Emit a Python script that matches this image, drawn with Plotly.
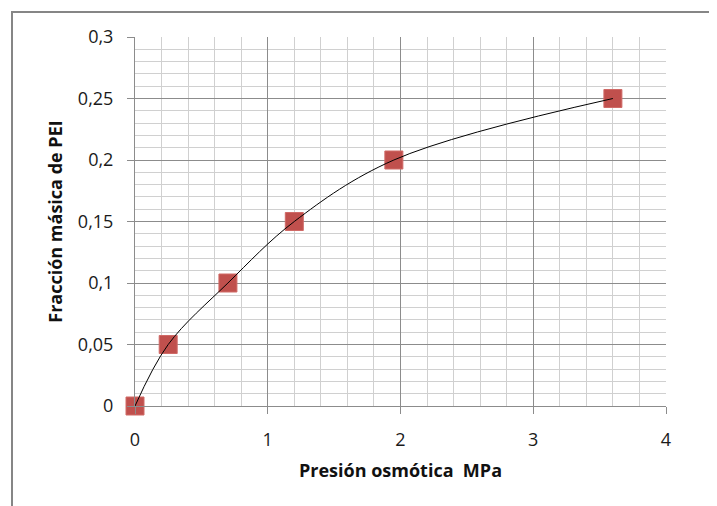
import plotly.graph_objects as go

presion = [0, 0.25, 0.7, 1.2, 1.95, 3.6]
fraccion = [0, 0.05, 0.1, 0.15, 0.2, 0.25]

x_ticks = [0, 1, 2, 3, 4]
x_labels = ["0", "1", "2", "3", "4"]
y_ticks = [0, 0.05, 0.1, 0.15, 0.2, 0.25, 0.3]
y_labels = ["0", "0,05", "0,1", "0,15", "0,2", "0,25", "0,3"]

FONT = "Open Sans"

fig = go.Figure()
fig.add_trace(go.Scatter(
    x=presion, y=fraccion, mode="markers", cliponaxis=False,
    marker=dict(symbol="square", size=18, color="#C0504D",
                line=dict(color="#D06A67", width=1)),
    showlegend=False, hoverinfo="skip"))
fig.add_trace(go.Scatter(
    x=presion, y=fraccion, mode="lines", cliponaxis=False,
    line=dict(color="black", width=1, shape="spline", smoothing=1),
    showlegend=False, hoverinfo="skip"))

# page body has an 8px margin, so the figure is shrunk/offset to compensate
fig.update_layout(
    width=709, height=498,
    margin=dict(l=127, r=51, t=29, b=100),
    paper_bgcolor="white", plot_bgcolor="white",
    font=dict(family=FONT, size=18, color="#1A1A1A"),
    xaxis=dict(
        range=[0, 4], tickvals=x_ticks, ticktext=x_labels,
        showgrid=True, gridcolor="#8C8C8C", gridwidth=1,
        minor=dict(dtick=0.2, showgrid=True, gridcolor="#D0D0D0", gridwidth=1),
        showline=True, linecolor="#8C8C8C", linewidth=1,
        ticks="outside", ticklen=7, tickcolor="#8C8C8C",
        ticklabelstandoff=10,
        zeroline=False, automargin=False,
        title=dict(text="<b>Presión osmótica&nbsp; MPa</b>", standoff=14,
                   font=dict(family=FONT, size=18, color="#111111")),
    ),
    yaxis=dict(
        range=[0, 0.3], tickvals=y_ticks, ticktext=y_labels,
        showgrid=True, gridcolor="#8C8C8C", gridwidth=1,
        minor=dict(dtick=0.01, showgrid=True, gridcolor="#D0D0D0", gridwidth=1),
        showline=True, linecolor="#8C8C8C", linewidth=1,
        ticks="outside", ticklen=7, tickcolor="#8C8C8C",
        ticklabelstandoff=10,
        zeroline=False, automargin=False,
        title=dict(text="<b>Fracción másica de PEI</b>", standoff=10,
                   font=dict(family=FONT, size=18, color="#111111")),
    ),
    shapes=[dict(type="rect", xref="paper", yref="paper",
                 xsizemode="pixel", ysizemode="pixel", xanchor=0, yanchor=1,
                 x0=-123, x1=700, y0=25, y1=-600,
                 line=dict(color="#868686", width=2), fillcolor="rgba(0,0,0,0)",
                 layer="below")],
)

fig.write_html("out.html")
